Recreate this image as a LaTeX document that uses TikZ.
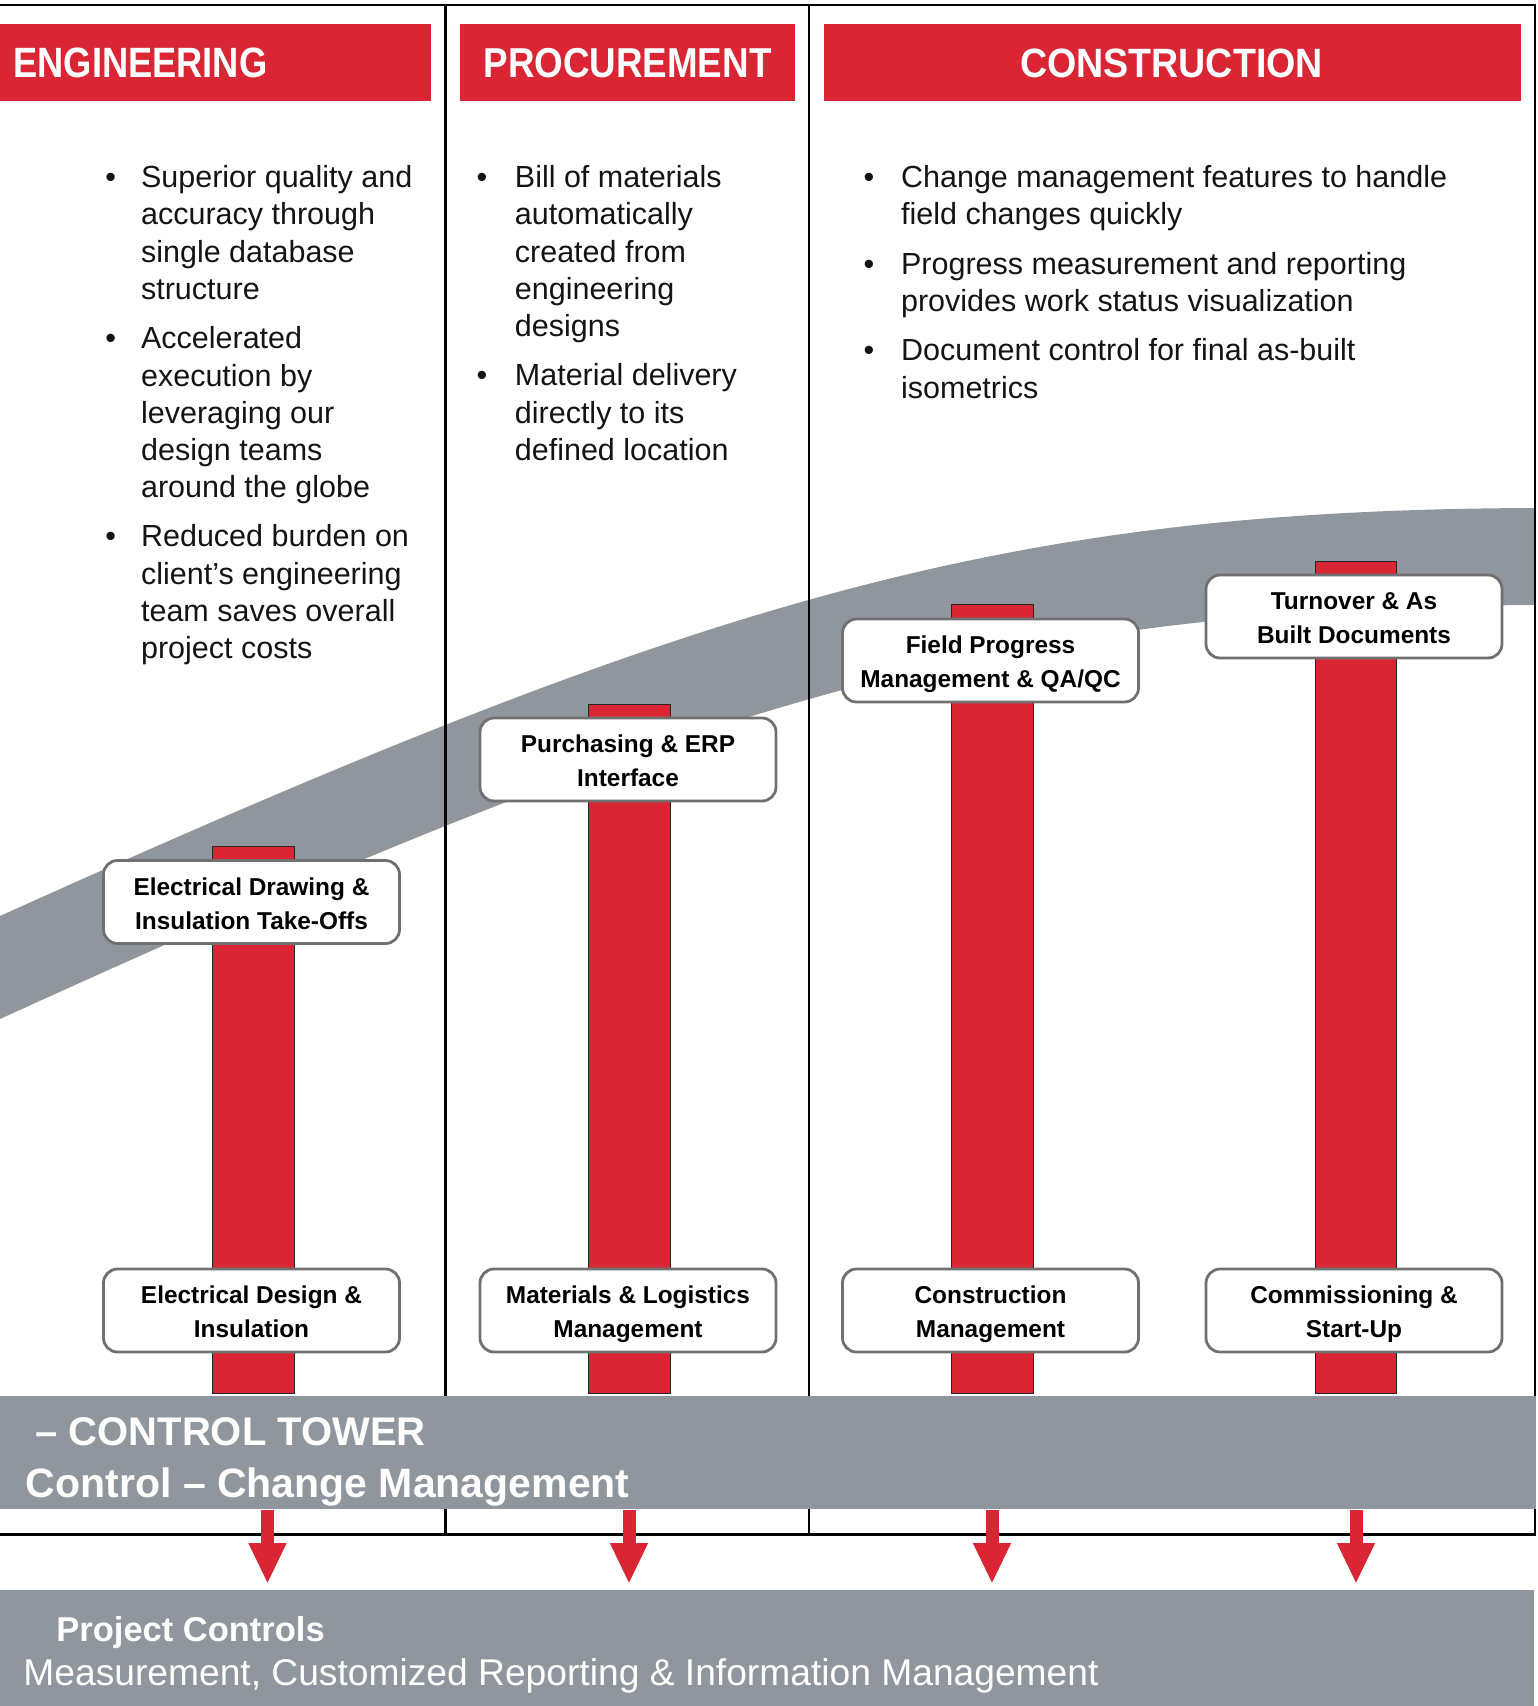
\documentclass[tikz,border=0pt]{standalone}
\usepackage{fontspec}
\setmainfont{Liberation Sans}
\usetikzlibrary{arrows.meta}
\definecolor{brandred}{RGB}{218,38,52}
\definecolor{bandgray}{RGB}{143,150,158}
\definecolor{boxline}{RGB}{112,112,112}
\definecolor{inkblack}{RGB}{20,20,20}
\newcommand{\twol}[2]{\rule{0pt}{13pt}#1\\#2\rule[-3pt]{0pt}{3pt}}
\tikzset{
  hdrbar/.style={fill=brandred, draw=none},
  hdrtext/.style={text=white, inner sep=0, font=\bfseries},
  bodytext/.style={inner sep=0, anchor=base west, align=left, text=inkblack, font=\fontsize{15.25pt}{18.65pt}\selectfont},
  bulletmark/.style={inner sep=0, anchor=base, text=inkblack, font=\fontsize{15.25pt}{18.65pt}\selectfont},
  stage/.style={draw=boxline, line width=1.4pt, fill=white, rounded corners=7pt, minimum width=148pt, minimum height=41.5pt, inner sep=0, align=center, text=black, font=\bfseries\fontsize{12.2pt}{17pt}\selectfont},
  redbar/.style={fill=brandred, draw=black!85, line width=0.5pt},
  framel/.style={line width=1.25pt, draw=black},
  band/.style={fill=bandgray, draw=none, inner sep=0, anchor=north west},
  bandtext/.style={text=white, inner sep=0, anchor=base west},
  flow/.style={draw=brandred, line width=6.5pt, -{Triangle[width=17.5pt,length=20.5pt]}, shorten >=3pt},
}
\begin{document}
\begin{tikzpicture}[x=0.5pt,y=-0.5pt]
\useasboundingbox (0,0) rectangle (1537,1706);

% swoosh
\fill[bandgray] (0,916) .. controls (700,600) and (1000,510) .. (1534,508)
  -- (1534,605) .. controls (1000,608) and (700,700) .. (0,1019) -- cycle;

% frame
\draw[framel] (0,5) -- (1535,5) -- (1535,1534.5) -- (0,1534.5);
\draw[framel] (445.5,5) -- (445.5,1534.5);
\draw[framel] (809,5) -- (809,1534.5);

% header bars
\fill[hdrbar] (0,24) rectangle (431,101);
\fill[hdrbar] (460,24) rectangle (795,101);
\fill[hdrbar] (824,24) rectangle (1521,101);
\node[hdrtext, anchor=base west] (hEng) at (13,78) {\resizebox{127pt}{14.8pt}{ENGINEERING}};
\node[hdrtext, anchor=base] (hPro) at (627.5,78) {\resizebox{144pt}{14.6pt}{PROCUREMENT}};
\node[hdrtext, anchor=base] (hCon) at (1171.5,78) {\resizebox{151.5pt}{14.3pt}{CONSTRUCTION}};

% engineering bullets (text nodes anchored at the baseline of their last line)
\node[bulletmark] (eb1) at (110.7,187.7) {•};
\node[bodytext] (et1) at (140.7,299.6) {Superior quality and\\accuracy through\\single database\\structure};
\node[bulletmark] (eb2) at (110.7,348.7) {•};
\node[bodytext] (et2) at (140.7,497.9) {Accelerated\\execution by\\leveraging our\\design teams\\around the globe};
\node[bulletmark] (eb3) at (110.7,546.7) {•};
\node[bodytext] (et3) at (140.7,658.6) {Reduced burden on\\client’s engineering\\team saves overall\\project costs};

% procurement bullets
\node[bulletmark] (pb1) at (482,187.7) {•};
\node[bodytext] (pt1) at (514.5,336.9) {Bill of materials\\automatically\\created from\\engineering\\designs};
\node[bulletmark] (pb2) at (482,385.7) {•};
\node[bodytext] (pt2) at (514.5,460.3) {Material delivery\\directly to its\\defined location};

% construction bullets
\node[bulletmark] (cb1) at (869,187.7) {•};
\node[bodytext] (ct1t) at (900.7,225) {Change management features to handle\\field changes quickly};
\node[bulletmark] (cb2) at (869,274.7) {•};
\node[bodytext] (ct2t) at (900.7,312) {Progress measurement and reporting\\provides work status visualization};
\node[bulletmark] (cb3) at (869,360.7) {•};
\node[bodytext] (ct3t) at (900.7,398) {Document control for final as-built\\isometrics};

% red bars
\path[redbar] (212,846) rectangle (294,1393);
\path[redbar] (588,704) rectangle (670,1393);
\path[redbar] (951,604) rectangle (1033,1393);
\path[redbar] (1315,561) rectangle (1396,1393);

% stage boxes
\node[stage] (s1) at (251.5,902) {\twol{Electrical Drawing \&}{Insulation Take-Offs}};
\node[stage] (s2) at (628,759.5) {\twol{Purchasing \& ERP}{Interface}};
\node[stage] (s3) at (990.5,660.5) {\twol{Field Progress}{Management \& QA/QC}};
\node[stage] (s4) at (1354,616.5) {\twol{Turnover \& As}{Built Documents}};
\node[stage] (d1) at (251.5,1310.5) {\twol{Electrical Design \&}{Insulation}};
\node[stage] (d2) at (628,1310.5) {\twol{Materials \& Logistics}{Management}};
\node[stage] (d3) at (990.5,1310.5) {\twol{Construction}{Management}};
\node[stage] (d4) at (1354,1310.5) {\twol{Commissioning \&}{Start-Up}};

% bottom bands
\node[band, minimum width=768pt, minimum height=56.5pt] (ct) at (0,1396) {};
\node[band, minimum width=767pt, minimum height=58pt] (pc) at (0,1590) {};
\node[bandtext, font=\bfseries\fontsize{20pt}{24pt}\selectfont] (ctl1) at (35,1445) {– CONTROL TOWER};
\node[bandtext, font=\bfseries\fontsize{20.5pt}{24pt}\selectfont] (ctl2) at (25.5,1497) {Control – Change Management};
\node[bandtext, font=\bfseries\fontsize{17.25pt}{21pt}\selectfont] (pcl1) at (56,1641.7) {Project Controls};
\node[bandtext, font=\fontsize{18.6pt}{22pt}\selectfont] (pcl2) at (23,1685) {Measurement, Customized Reporting \& Information Management};

% arrows
\coordinate (a1) at (267.5,0);
\coordinate (a2) at (629,0);
\coordinate (a3) at (992,0);
\coordinate (a4) at (1356,0);
\draw[flow] (ct.south -| a1) -- (pc.north -| a1);
\draw[flow] (ct.south -| a2) -- (pc.north -| a2);
\draw[flow] (ct.south -| a3) -- (pc.north -| a3);
\draw[flow] (ct.south -| a4) -- (pc.north -| a4);
\end{tikzpicture}
\end{document}
